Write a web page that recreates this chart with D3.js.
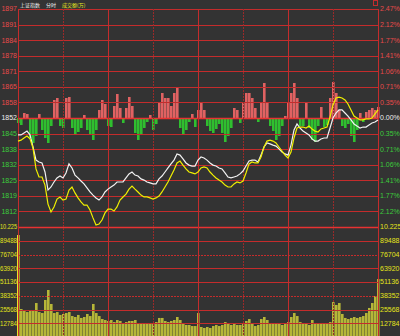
<!DOCTYPE html>
<html>
<head>
<meta charset="utf-8">
<script src="https://cdn.jsdelivr.net/npm/d3@7"></script>
<style>
html, body { margin: 0; padding: 0; background: #333333; }
svg { display: block; }
</style>
</head>
<body>
<div id="intraday-chart"></div>
<script>

// one sample every 2 minutes, 0 = 9:30 open, 120 = midday break, 240 = 15:00 close
const minutes = d3.range(0, 241, 2);

// index price (white line)
const price = [
	1844.9, 1844.9, 1845.7, 1846.5, 1844.9, 1839.8, 1834.3, 1833.5, 1833.1, 1829.3,
	1821.7, 1823.0, 1825.1, 1826.8, 1827.6, 1826.8, 1828.9, 1832.7, 1831.0, 1828.0,
	1826.8, 1825.5, 1824.3, 1822.6, 1820.9, 1819.6, 1818.4, 1817.5, 1818.8, 1820.9,
	1822.1, 1823.0, 1823.8, 1825.1, 1825.1, 1825.1, 1826.8, 1828.5, 1829.3, 1828.0,
	1827.6, 1826.4, 1825.9, 1825.1, 1824.7, 1824.3, 1824.3, 1826.4, 1827.6, 1829.3,
	1831.0, 1832.7, 1834.3, 1836.9, 1836.4, 1834.8, 1833.1, 1832.2, 1831.8, 1831.8,
	1834.3, 1835.6, 1835.2, 1834.3, 1833.1, 1832.2, 1831.8, 1831.0, 1830.6, 1828.9,
	1827.2, 1826.8, 1827.2, 1827.6, 1828.5, 1829.7, 1831.8, 1833.9, 1834.3, 1834.3,
	1833.5, 1836.4, 1839.8, 1841.5, 1841.1, 1840.6, 1840.2, 1839.0, 1837.7, 1836.9,
	1836.4, 1840.6, 1847.0, 1849.5, 1847.8, 1846.5, 1845.7, 1844.9, 1843.2, 1842.3,
	1842.3, 1843.2, 1843.6, 1843.6, 1847.8, 1852.0, 1854.1, 1855.4, 1855.4, 1854.1,
	1852.8, 1851.2, 1849.5, 1848.6, 1847.8, 1848.2, 1848.2, 1849.1, 1849.9, 1850.3, 1851.2
];

// unweighted index (yellow line)
const leadLine = [
	1842.3, 1842.7, 1843.6, 1844.4, 1843.2, 1839.4, 1830.6, 1827.2, 1827.2, 1823.8,
	1815.8, 1812.5, 1814.6, 1817.9, 1818.8, 1817.5, 1817.9, 1821.7, 1823.0, 1820.5,
	1818.4, 1816.7, 1815.4, 1815.4, 1813.3, 1810.0, 1807.0, 1807.4, 1809.1, 1812.1,
	1813.7, 1813.7, 1812.9, 1814.6, 1817.5, 1818.8, 1820.0, 1822.1, 1823.4, 1822.1,
	1820.9, 1819.6, 1818.8, 1818.8, 1818.4, 1817.9, 1818.4, 1819.2, 1820.9, 1823.0,
	1825.1, 1827.6, 1830.1, 1833.1, 1833.9, 1832.2, 1830.6, 1829.3, 1828.9, 1828.5,
	1829.3, 1831.0, 1831.4, 1831.0, 1829.3, 1828.0, 1826.8, 1825.9, 1825.1, 1823.8,
	1823.0, 1823.0, 1824.3, 1825.1, 1824.7, 1825.5, 1828.9, 1832.7, 1833.5, 1833.1,
	1833.1, 1835.6, 1839.8, 1842.3, 1842.7, 1842.3, 1841.5, 1839.8, 1838.1, 1836.4,
	1835.2, 1837.7, 1843.6, 1847.8, 1848.2, 1848.2, 1847.8, 1848.6, 1847.4, 1846.5,
	1846.1, 1847.4, 1847.8, 1848.2, 1852.4, 1857.5, 1860.4, 1860.8, 1860.4, 1859.6,
	1857.9, 1855.4, 1852.8, 1852.0, 1851.2, 1851.2, 1851.6, 1851.6, 1852.0, 1853.7, 1855.4
];

// buy / sell strength bars (red up, green down)
const strength = [
	-5, -7, 5, 4, -20, -25, -18, 4, -12, -20,
	-25, -8, 18, 20, -8, -10, 20, 21, -10, -17,
	-14, -10, 3, -12, -17, -22, -12, 8, 18, 14,
	-8, -9, 12, 24, 10, -5, 10, 21, 12, -15,
	-22, -16, -10, -4, 3, -12, -6, 15, 25, 20,
	20, 12, 25, 30, -10, -16, -12, -4, 4, -9,
	8, 15, 8, -8, -13, -15, -11, -6, -15, -24,
	-18, -10, 10, 8, -5, 15, 25, 25, 20, 10,
	-4, 15, 35, 15, -8, -13, -22, -18, -8, 2,
	15, 25, 35, 20, -8, -8, 16, -10, -22, -24,
	-8, 11, -9, -7, 20, 36, 25, 8, -8, -10,
	-6, -18, -24, -12, 5, -4, 6, 8, 10, 8, 11
];

// turnover (万)
const volume = [
	94800, 26000, 24200, 23200, 24200, 25100, 31600, 23200, 22300, 34400,
	43700, 30700, 22300, 23200, 20500, 21400, 22300, 23200, 19500, 18600,
	20500, 17700, 18600, 21400, 19500, 30700, 22300, 19500, 16700, 15800,
	14900, 15800, 13900, 15800, 14900, 13000, 13900, 14900, 14900, 15800,
	13000, 12100, 13000, 12100, 13000, 12100, 13900, 17700, 17700, 14900,
	13900, 14900, 15800, 18600, 15800, 12100, 11200, 11200, 10200, 10200,
	22300, 9300, 8400, 9300, 8400, 10200, 11200, 10200, 11200, 13900,
	12100, 11200, 12100, 11200, 11200, 12100, 14900, 16700, 12100, 10200,
	11200, 16700, 18600, 15800, 13000, 12100, 13000, 12100, 11200, 13000,
	13900, 18600, 22300, 19500, 13900, 12100, 13000, 11200, 15800, 12100,
	12100, 13000, 12100, 13000, 13900, 32500, 29800, 31600, 21400, 17700,
	16700, 17700, 18600, 17700, 18600, 19500, 22300, 27000, 31600, 38100, 53900
];

const preClose = 1852.0;
const pctStep = 0.3535;

const priceLabels = ["1897", "1891", "1884", "1878", "1871", "1865", "1858",
	"1852", "1845", "1838", "1832", "1825", "1819", "1812"];
const pctLabels = ["2.47%", "2.12%", "1.77%", "1.41%", "1.06%", "0.71%", "0.35%",
	"0.00%", "0.35%", "0.71%", "1.06%", "1.41%", "1.77%", "2.12%"];
const volTicks = [89488, 76704, 63920, 51136, 38352, 25568, 12784];
const volMax = 102272;
const volTopLabel = "10.225";

const titleParts = [
	{text: "上证指数", color: "#f0f0f0"},
	{text: "分时", color: "#f0f0f0"},
	{text: "成交额(万)", color: "#e8e820"}
];


class IntradayChart {

	constructor(element_id) {

		const width = 400,
		height = 336;
		const plot = {left: 18, right: 378, top: 9, mid: 227, bottom: 337};

		const RED_DIM = "#9a2a2a",
		RED = "#c42c2c",
		RED_BRIGHT = "#e83232",
		TXT_RED = "#e84a4a",
		TXT_GREEN = "#3ccc3c",
		TXT_YELLOW = "#e4e41c";

		const crisp = v => Math.round(v) + 0.5;

		const svg = d3.select("#" + element_id)
			.append("svg")
				.attr("width", width)
				.attr("height", height);

		svg.append("rect")
			.attr("width", width)
			.attr("height", height)
			.attr("fill", "#333333");

		// time axis, 1.5 px per minute
		const x_axis = d3.scaleLinear()
			.domain([0, 240])
			.range([plot.left, plot.right]);

		// top panel in percent from previous close
		const pct_span = pctStep * 7;
		const y_pct = d3.scaleLinear()
			.domain([-pct_span, pct_span])
			.range([plot.mid, plot.top]);
		const to_pct = p => (p - preClose) / preClose * 100;

		// strength bars: one unit is one pixel from the zero line
		const half = (plot.mid - plot.top) / 2;
		const y_strength = d3.scaleLinear()
			.domain([-half, half])
			.range([plot.mid, plot.top]);

		// volume panel
		const y_vol = d3.scaleLinear()
			.domain([0, volMax])
			.range([plot.bottom, plot.mid]);

		const series = minutes.map((m, i) => ({
			m: m,
			price: price[i],
			lead: leadLine[i],
			strength: strength[i],
			volume: volume[i]
		}));

		// Volume bars
		svg.append("g")
			.selectAll("rect")
			.data(series)
			.join("rect")
				.attr("x", d => x_axis(d.m) - 1)
				.attr("width", 2.6)
				.attr("y", d => y_vol(d.volume))
				.attr("height", d => y_vol(0) - y_vol(d.volume))
				.attr("fill", (d, i) => i == 0 ? "#e6e62a" : "#b6b638");

		// Strength bars
		svg.append("g")
			.selectAll("rect")
			.data(series)
			.join("rect")
				.attr("x", d => x_axis(d.m) - 1)
				.attr("width", 2.6)
				.attr("y", d => y_strength(Math.max(0, d.strength)))
				.attr("height", d => Math.abs(y_strength(d.strength) - y_strength(0)))
				.attr("fill", d => d.strength > 0 ? "#e06262" : "#2fbf2f");

		// ****** grid ******
		const grid = svg.append("g").attr("fill", "none");

		// horizontal lines of the price panel
		d3.range(7, -8, -1).forEach(i => {
			const y = crisp(y_pct(i * pctStep));
			grid.append("line")
				.attr("x1", plot.left).attr("x2", plot.right)
				.attr("y1", y).attr("y2", y)
				.attr("stroke", (i == 0 || i == -7) ? RED_BRIGHT : RED)
				.attr("stroke-width", (i == 0 || i == -7) ? 1.6 : 1);
		});

		// horizontal lines of the volume panel
		volTicks.forEach((v, i) => {
			const y = crisp(y_vol(v));
			grid.append("line")
				.attr("x1", plot.left).attr("x2", plot.right)
				.attr("y1", y).attr("y2", y)
				.attr("stroke", RED)
				.attr("stroke-dasharray", i % 3 == 1 ? "2,1" : null);
		});

		// vertical lines every half hour
		d3.range(30, 240, 30).forEach(m => {
			const xx = crisp(x_axis(m));
			grid.append("line")
				.attr("x1", xx).attr("x2", xx)
				.attr("y1", plot.top).attr("y2", height)
				.attr("stroke", m % 60 == 0 ? RED : RED_DIM)
				.attr("stroke-dasharray", m % 60 == 0 ? null : "2,1");
		});

		// frame
		[plot.left, plot.right].forEach(v => {
			grid.append("line")
				.attr("x1", crisp(v)).attr("x2", crisp(v))
				.attr("y1", plot.top).attr("y2", height)
				.attr("stroke", RED);
		});

		// Add the lines
		const price_line = d3.line()
			.x(d => x_axis(d.m))
			.y(d => y_pct(to_pct(d.price)));
		const lead_line = d3.line()
			.x(d => x_axis(d.m))
			.y(d => y_pct(to_pct(d.lead)));

		svg.append("path")
			.datum(series)
			.attr("fill", "none")
			.attr("stroke", "#f2f2f2")
			.attr("stroke-width", 1.2)
			.attr("d", price_line);

		svg.append("path")
			.datum(series)
			.attr("fill", "none")
			.attr("stroke", "#f0f000")
			.attr("stroke-width", 1.2)
			.attr("d", lead_line);

		// ****** labels ******
		const labels = svg.append("g")
			.attr("font-family", "'Liberation Sans', Arial, sans-serif")
			.attr("font-size", "7px");

		const label_color = i => i > 0 ? TXT_RED : (i == 0 ? "#eeeeee" : TXT_GREEN);

		// left labels are squeezed into the 17px margin like the original
		const left_label = (y, txt, color) => {
			const t = labels.append("text")
				.attr("x", plot.left - 1)
				.attr("y", y)
				.attr("dy", "0.35em")
				.attr("text-anchor", "end")
				.attr("fill", color)
				.text(txt);
			if (txt.length > 4) {
				t.attr("textLength", 17).attr("lengthAdjust", "spacingAndGlyphs");
			}
		};
		const right_label = (y, txt, color) => {
			labels.append("text")
				.attr("x", plot.right + 2)
				.attr("y", y)
				.attr("dy", "0.35em")
				.attr("fill", color)
				.text(txt);
		};

		d3.range(7, -7, -1).forEach((i, k) => {
			const y = y_pct(i * pctStep);
			left_label(y, priceLabels[k], label_color(i));
			right_label(y, pctLabels[k], label_color(i));
		});

		// volume scale labels
		left_label(y_vol(volMax), volTopLabel, TXT_YELLOW);
		right_label(y_vol(volMax), volTopLabel, TXT_YELLOW);
		volTicks.forEach(v => {
			left_label(y_vol(v), String(v), TXT_YELLOW);
			right_label(y_vol(v), String(v), TXT_YELLOW);
		});

		// title row
		const title_x = [20, 46, 62];
		svg.append("g")
			.attr("font-family", "'Noto Sans CJK SC', sans-serif")
			.attr("font-size", "5px")
			.selectAll("text")
			.data(titleParts)
			.join("text")
				.attr("x", (d, i) => title_x[i])
				.attr("y", 5)
				.attr("dy", "0.35em")
				.attr("fill", d => d.color)
				.text(d => d.text);

		// small box at top right
		svg.append("rect")
			.attr("x", 373.5)
			.attr("y", 0.5)
			.attr("width", 4)
			.attr("height", 5)
			.attr("fill", "none")
			.attr("stroke", RED);
	}
}

function whenDocumentLoaded(action) {
	if (document.readyState === "loading") {
		document.addEventListener("DOMContentLoaded", action);
	} else {
		action();
	}
}

whenDocumentLoaded(() => {
	plot_object = new IntradayChart('intraday-chart');
});
</script>
</body>
</html>
